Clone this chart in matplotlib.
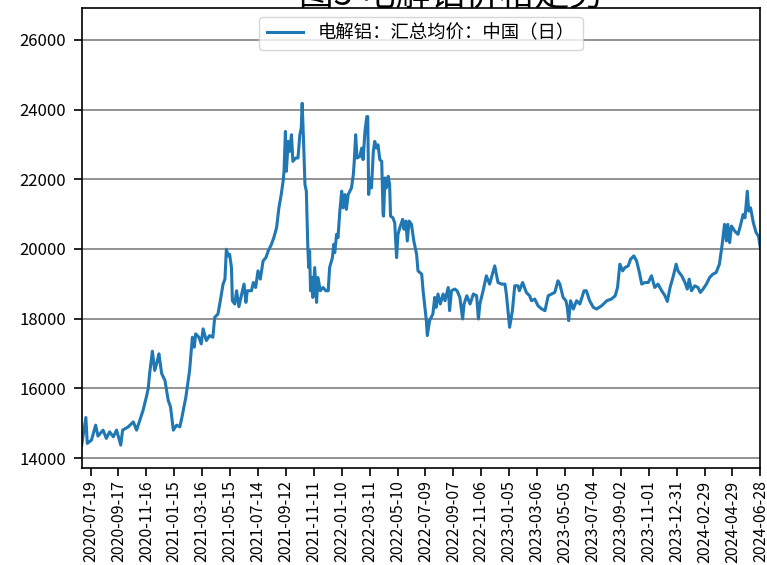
import matplotlib
matplotlib.use("Agg")
import matplotlib.pyplot as plt
import pandas as pd

plt.rcParams['font.family'] = ['Noto Sans CJK SC', 'DejaVu Sans']
plt.rcParams['axes.unicode_minus'] = False

title = "图5 电解铝价格走势"
series_label = "电解铝：汇总均价：中国（日）"

dates = [
    "2020-06-30", "2020-07-09", "2020-07-12", "2020-07-21", "2020-07-30", "2020-08-04",
    "2020-08-15", "2020-08-22", "2020-08-29", "2020-09-06", "2020-09-13", "2020-09-22",
    "2020-09-26", "2020-10-08", "2020-10-19", "2020-10-26", "2020-11-02", "2020-11-09",
    "2020-11-16", "2020-11-20", "2020-11-23", "2020-11-29", "2020-12-04", "2020-12-09",
    "2020-12-13", "2020-12-19", "2020-12-26", "2021-01-02", "2021-01-07", "2021-01-13",
    "2021-01-20", "2021-01-27", "2021-01-31", "2021-02-09", "2021-02-17", "2021-02-23",
    "2021-02-27", "2021-03-02", "2021-03-09", "2021-03-14", "2021-03-18", "2021-03-25",
    "2021-04-01", "2021-04-08", "2021-04-12", "2021-04-19", "2021-04-24", "2021-04-30",
    "2021-05-04", "2021-05-07", "2021-05-11", "2021-05-14", "2021-05-18", "2021-05-20",
    "2021-05-25", "2021-05-29", "2021-06-03", "2021-06-09", "2021-06-14", "2021-06-18",
    "2021-06-21", "2021-06-30", "2021-07-04", "2021-07-09", "2021-07-14", "2021-07-19",
    "2021-07-25", "2021-07-31", "2021-08-05", "2021-08-12", "2021-08-17", "2021-08-23",
    "2021-08-28", "2021-09-02", "2021-09-06", "2021-09-08", "2021-09-11", "2021-09-13",
    "2021-09-17", "2021-09-20", "2021-09-24", "2021-09-27", "2021-10-03", "2021-10-08",
    "2021-10-12", "2021-10-15", "2021-10-17", "2021-10-20", "2021-10-23", "2021-10-26",
    "2021-10-29", "2021-10-31", "2021-11-02", "2021-11-04", "2021-11-08", "2021-11-09",
    "2021-11-13", "2021-11-17", "2021-11-20", "2021-11-25", "2021-12-01", "2021-12-07",
    "2021-12-12", "2021-12-15", "2021-12-21", "2021-12-24", "2021-12-26", "2021-12-30",
    "2022-01-02", "2022-01-06", "2022-01-10", "2022-01-13", "2022-01-17", "2022-01-20",
    "2022-01-24", "2022-01-31", "2022-02-04", "2022-02-06", "2022-02-09", "2022-02-12",
    "2022-02-18", "2022-02-22", "2022-02-25", "2022-03-01", "2022-03-05", "2022-03-07",
    "2022-03-09", "2022-03-11", "2022-03-15", "2022-03-19", "2022-03-22", "2022-03-26",
    "2022-03-29", "2022-04-02", "2022-04-06", "2022-04-09", "2022-04-10", "2022-04-13",
    "2022-04-16", "2022-04-20", "2022-04-23", "2022-04-25", "2022-04-30", "2022-05-04",
    "2022-05-08", "2022-05-11", "2022-05-15", "2022-05-21", "2022-05-24", "2022-05-28",
    "2022-05-31", "2022-06-04", "2022-06-09", "2022-06-14", "2022-06-20", "2022-06-23",
    "2022-07-01", "2022-07-04", "2022-07-08", "2022-07-11", "2022-07-13", "2022-07-18",
    "2022-07-25", "2022-07-29", "2022-08-01", "2022-08-05", "2022-08-10", "2022-08-16",
    "2022-08-20", "2022-08-27", "2022-08-30", "2022-09-03", "2022-09-10", "2022-09-15",
    "2022-09-21", "2022-09-27", "2022-09-30", "2022-10-06", "2022-10-13", "2022-10-20",
    "2022-10-27", "2022-10-31", "2022-11-03", "2022-11-10", "2022-11-17", "2022-11-24",
    "2022-12-05", "2022-12-12", "2022-12-20", "2022-12-27", "2022-12-30", "2023-01-06",
    "2023-01-12", "2023-01-17", "2023-01-24", "2023-01-27", "2023-02-03", "2023-02-11",
    "2023-02-18", "2023-02-22", "2023-03-01", "2023-03-08", "2023-03-16", "2023-03-23",
    "2023-03-30", "2023-04-06", "2023-04-13", "2023-04-20", "2023-04-24", "2023-05-01",
    "2023-05-07", "2023-05-10", "2023-05-13", "2023-05-17", "2023-05-23", "2023-05-30",
    "2023-06-06", "2023-06-15", "2023-06-20", "2023-06-27", "2023-07-05", "2023-07-12",
    "2023-07-23", "2023-08-03", "2023-08-13", "2023-08-21", "2023-08-26", "2023-08-31",
    "2023-09-06", "2023-09-11", "2023-09-18", "2023-09-23", "2023-09-30", "2023-10-06",
    "2023-10-12", "2023-10-17", "2023-10-24", "2023-10-31", "2023-11-07", "2023-11-14",
    "2023-11-21", "2023-11-29", "2023-12-06", "2023-12-11", "2023-12-17", "2023-12-24",
    "2023-12-30", "2024-01-03", "2024-01-11", "2024-01-18", "2024-01-23", "2024-01-27",
    "2024-02-01", "2024-02-08", "2024-02-15", "2024-02-20", "2024-02-26", "2024-03-04",
    "2024-03-11", "2024-03-18", "2024-03-25", "2024-04-01", "2024-04-07", "2024-04-12",
    "2024-04-16", "2024-04-19", "2024-04-23", "2024-04-27", "2024-05-04", "2024-05-11",
    "2024-05-15", "2024-05-22", "2024-05-26", "2024-05-31", "2024-06-03", "2024-06-07",
    "2024-06-13", "2024-06-19", "2024-06-24", "2024-06-28",
]

prices = [
    14371, 15163, 14420, 14514, 14943, 14629,
    14800, 14563, 14751, 14609, 14800, 14371,
    14800, 14894, 15037, 14800, 15086, 15371,
    15751, 15991, 16420, 17066, 16514, 16751,
    16991, 16420, 16229, 15657, 15466, 14800,
    14943, 14894, 15134, 15751, 16514, 17466,
    17180, 17563, 17466, 17277, 17706, 17371,
    17514, 17466, 18037, 18134, 18514, 18991,
    19134, 19991, 19800, 19849, 19466, 18514,
    18420, 18800, 18343, 18706, 18991, 18466,
    18800, 18800, 19037, 18894, 19371, 19134,
    19657, 19751, 19943, 20134, 20323, 20609,
    21180, 21563, 21943, 22229, 23371, 22229,
    23086, 22800, 23277, 22514, 22609, 22609,
    23277, 23466, 24180, 23086, 21849, 21657,
    20134, 19466, 19943, 18800, 19180, 18609,
    19466, 18466, 19180, 18800, 18894, 18800,
    18800, 19466, 19751, 20134, 19894, 20420,
    20323, 21086, 21657, 21180, 21563, 21137,
    21563, 21751, 22134, 22514, 23277, 22609,
    22657, 22894, 22563, 23371, 23800, 23800,
    21563, 22037, 21751, 22800, 23086, 22894,
    22989, 22563, 22514, 20989, 20943, 22037,
    21751, 22086, 21849, 20943, 20894, 20751,
    19751, 20420, 20609, 20849, 20563, 20800,
    20229, 20800, 20706, 20229, 19849, 19371,
    19277, 18800, 18323, 17943, 17514, 17943,
    18134, 18609, 18323, 18706, 18420, 18706,
    18514, 18894, 18229, 18800, 18849, 18800,
    18609, 17991, 18420, 18657, 18420, 18706,
    18657, 17991, 18420, 18800, 19229, 18991,
    19514, 19037, 18991, 18991, 18706, 17751,
    18229, 18943, 18943, 18800, 19037, 18751,
    18657, 18514, 18563, 18371, 18277, 18229,
    18657, 18706, 18751, 19086, 18991, 18609,
    18514, 18323, 17943, 18514, 18277, 18514,
    18420, 18800, 18800, 18514, 18323, 18277,
    18371, 18514, 18563, 18657, 18894, 19563,
    19371, 19466, 19514, 19706, 19800, 19657,
    19323, 18991, 19037, 19037, 19229, 18894,
    18991, 18800, 18657, 18494, 18894, 19229,
    19563, 19371, 19229, 19037, 18849, 19134,
    18800, 18943, 18894, 18751, 18849, 18991,
    19180, 19277, 19323, 19563, 20134, 20706,
    20229, 20706, 20180, 20657, 20514, 20420,
    20609, 20989, 20894, 21657, 21086, 21180,
    20751, 20466, 20371, 20037,
]

tick_dates = ["2020-07-19", "2020-09-17", "2020-11-16", "2021-01-15", "2021-03-16",
              "2021-05-15", "2021-07-14", "2021-09-12", "2021-11-11", "2022-01-10",
              "2022-03-11", "2022-05-10", "2022-07-09", "2022-09-07", "2022-11-06",
              "2023-01-05", "2023-03-06", "2023-05-05", "2023-07-04", "2023-09-02",
              "2023-11-01", "2023-12-31", "2024-02-29", "2024-04-29", "2024-06-28"]
y_ticks = [14000, 16000, 18000, 20000, 22000, 24000, 26000]

x = pd.to_datetime(dates)
xt = pd.to_datetime(tick_dates)

fig = plt.figure(figsize=(7.67, 5.65), dpi=100)
ax = fig.add_axes([0.1065, 0.1717, 0.8848, 0.8141])

ax.plot(x, prices, color='#1f77b4', linewidth=2.2, label=series_label)
ax.set_xlim(x[0], x[-1])
ax.set_ylim(13714, 26914)
ax.set_yticks(y_ticks)
ax.set_xticks(xt)
ax.set_xticklabels(tick_dates, rotation=90, fontsize=11.5)
ax.tick_params(axis='y', labelsize=12, length=6, width=1.2, pad=5)
ax.tick_params(axis='x', length=6, width=1.2, pad=3)
ax.grid(axis='y', color='gray', linewidth=1.2)
for s in ax.spines.values():
    s.set_linewidth(1.2)

ax.legend(loc='upper center', fontsize=13.2, handlelength=2.0, borderaxespad=0.5)

fig.text(452 / 767, 1 - 4 / 565, title, ha='center', va='baseline', fontsize=25)

fig.savefig("out.png", dpi=100)
